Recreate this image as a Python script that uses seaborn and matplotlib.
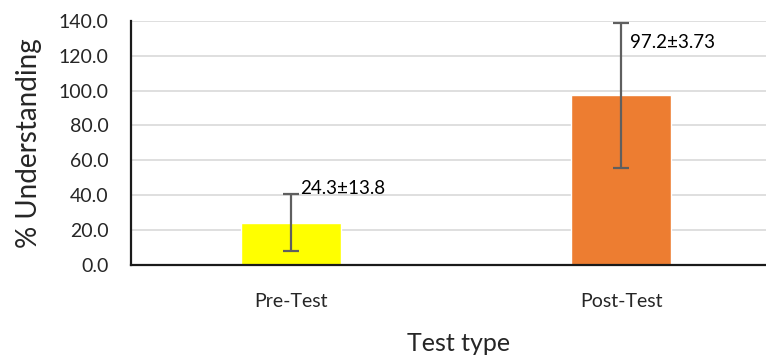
import numpy as np
import pandas as pd
import matplotlib
matplotlib.use("Agg")
import matplotlib.pyplot as plt
import seaborn as sns

# data
tests = ["Pre-Test", "Post-Test"]
means = [24.3, 97.2]
errors = [16.2, 41.5]
labels = ["24.3±13.8", "97.2±3.73"]
colors = ["#FFFF00", "#ED7D31"]
yticks = [0, 20, 40, 60, 80, 100, 120, 140]

df = pd.DataFrame({"Test": tests, "Mean": means})

sns.set_style("white")
plt.rcParams['font.family'] = ['Lato', 'DejaVu Sans']

fig = plt.figure(figsize=(7.66, 3.56), dpi=100)
W, H = 766, 356
ax = fig.add_axes([131 / W, (H - 265) / H, (786 - 131) / W, (265 - 20.7) / H])

sns.barplot(data=df, x="Test", y="Mean", hue="Test", palette=colors,
            saturation=1, width=0.303, legend=False, ax=ax, zorder=2)
ax.errorbar(np.arange(len(tests)), means, yerr=errors, fmt="none",
            ecolor="#5f5f5f", elinewidth=1.6, capsize=6, capthick=1.6, zorder=3)

for i, (m, e, lab) in enumerate(zip(means, errors, labels)):
    ax.text(i + 0.027, m + e + 3.5 if i == 0 else m + e - 11, lab,
            ha="left", va="center", fontsize=13.5, color="black", zorder=4)

ax.set_xlim(-0.485, 1.5)
ax.set_ylim(0, 140)
ax.set_yticks(yticks)
ax.set_yticklabels([f"{v:.1f}" for v in yticks], fontsize=14)
ax.tick_params(axis="x", labelsize=14, length=0, pad=20)
ax.tick_params(axis="y", length=0, pad=16)
ax.yaxis.grid(True, color="#D9D9D9", linewidth=1.2, zorder=0)
ax.set_axisbelow(True)

for s in ["top", "right"]:
    ax.spines[s].set_visible(False)
for s in ["left", "bottom"]:
    ax.spines[s].set_color("#1a1a1a")
    ax.spines[s].set_linewidth(1.6)

ax.set_ylabel("% Understanding", fontsize=20, labelpad=12)
ax.set_xlabel("Test type", fontsize=18, labelpad=16)

fig.savefig("out.png", dpi=100)
